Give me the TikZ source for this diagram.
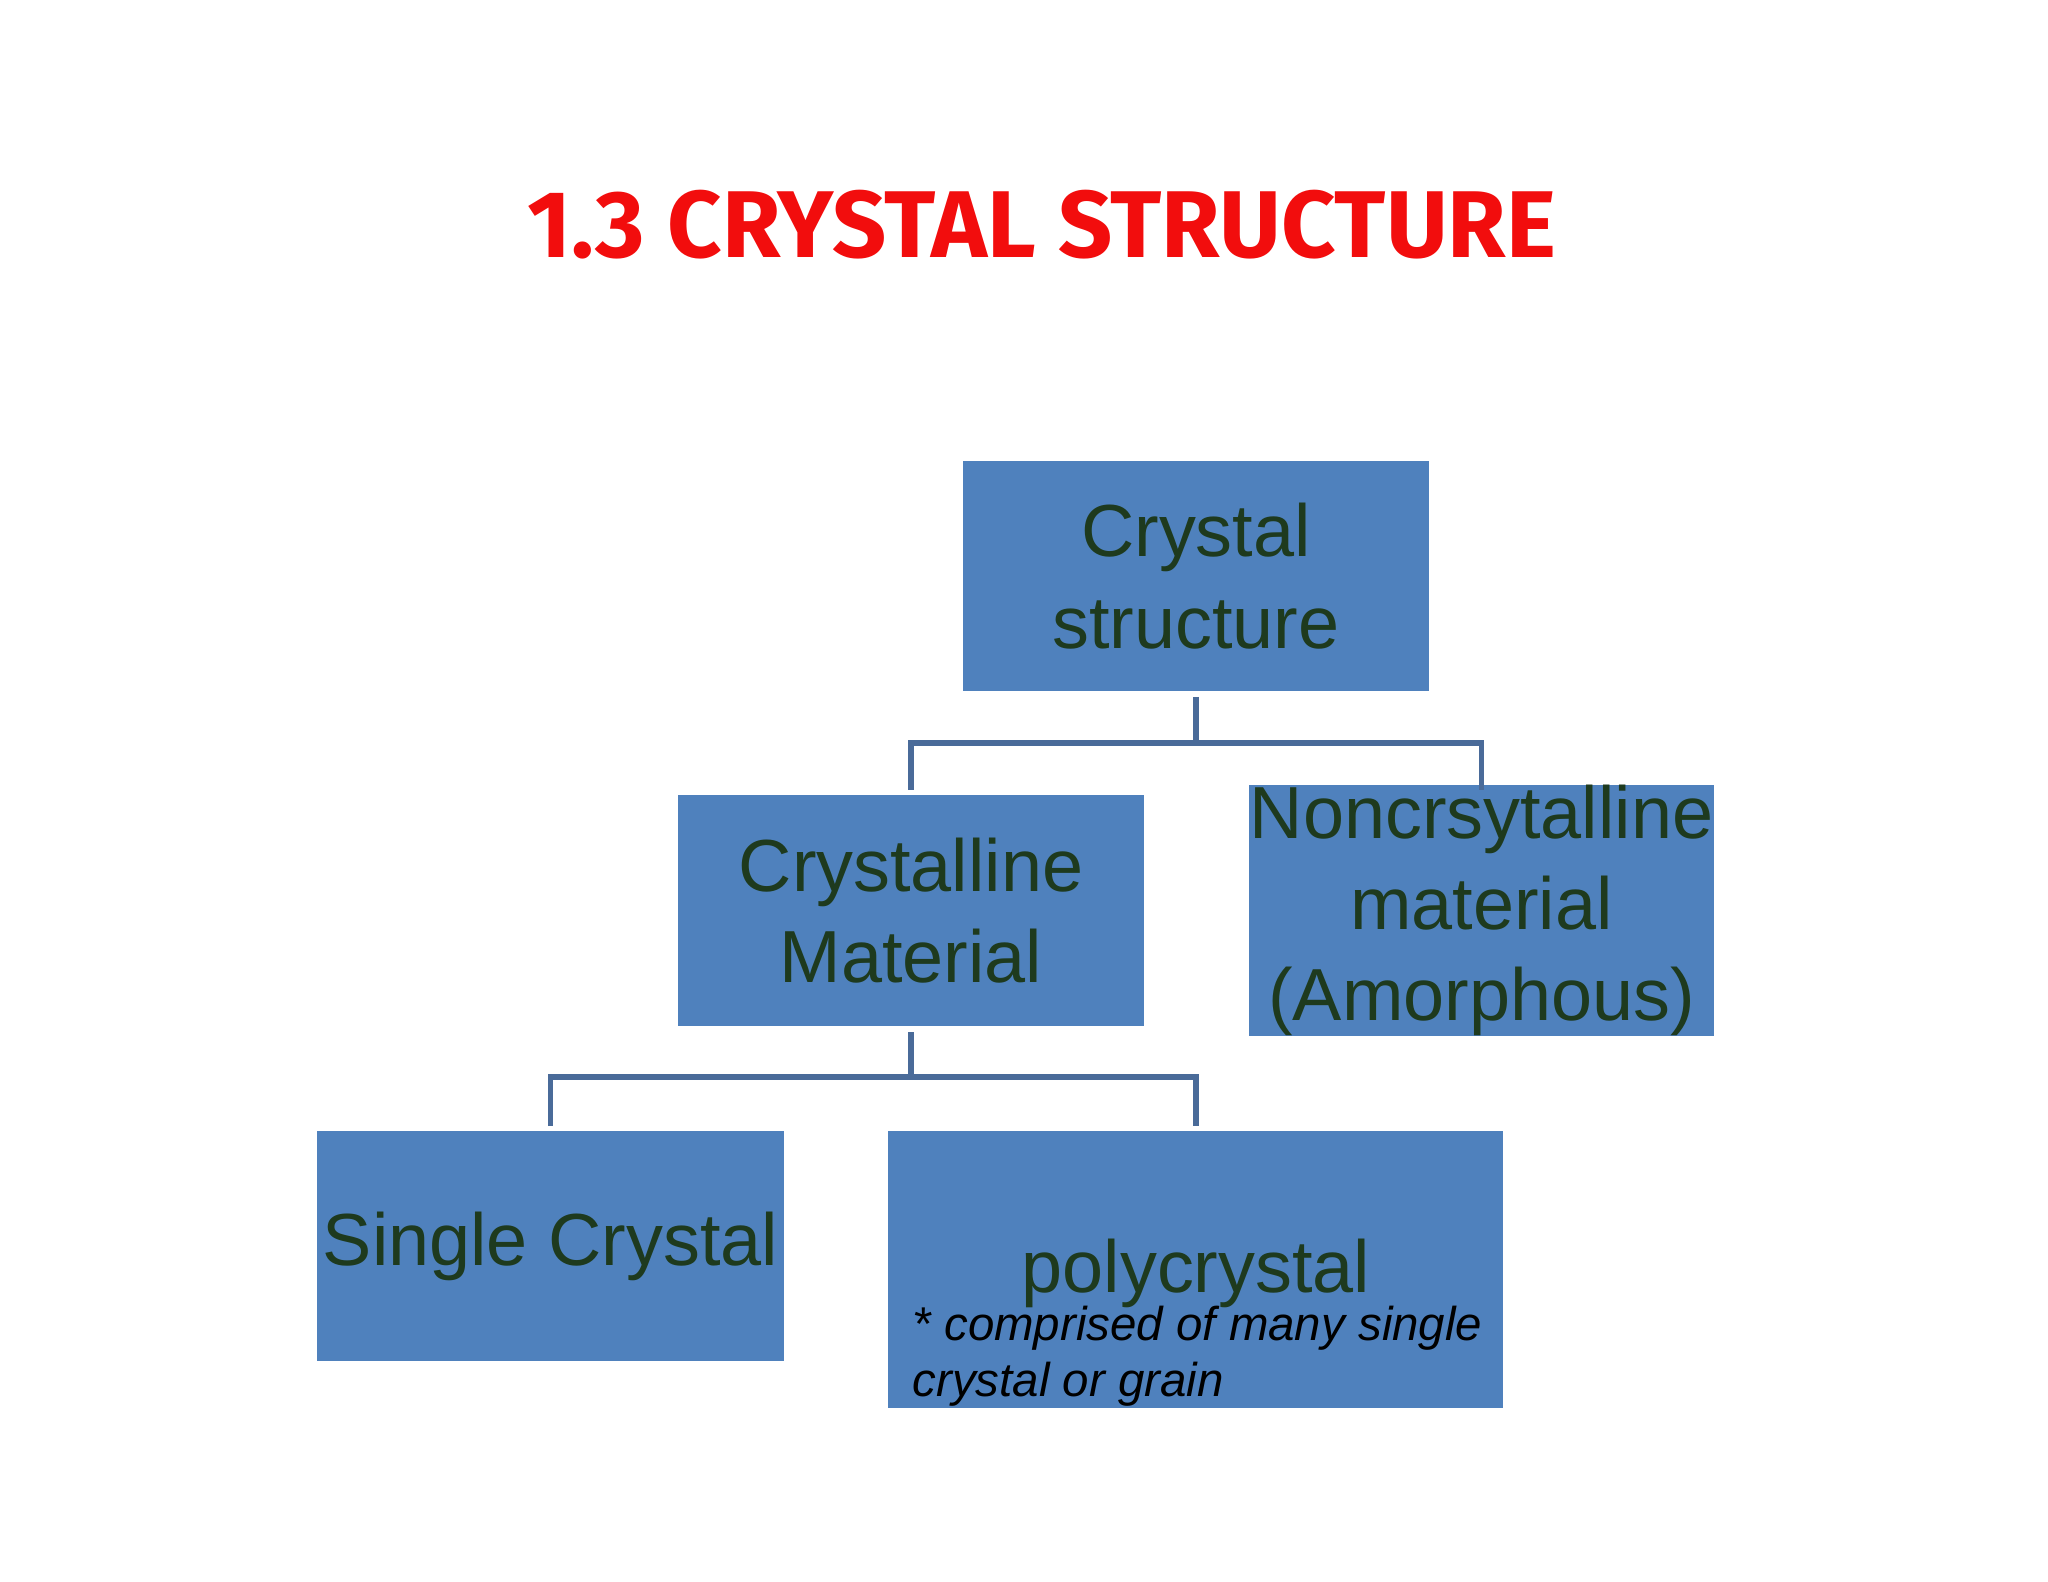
\documentclass[tikz,border=0pt]{standalone}
\usepackage{fontspec}
\setmainfont{Liberation Sans}
\newfontfamily\titlefont{Fira Sans}
\begin{document}
\begin{tikzpicture}[x=1cm,y=-1cm,
  box/.style={draw=none,fill=boxblue,inner sep=0pt,text=boxtext,font=\fontsize{21}{26}\selectfont,align=center},
  conn/.style={draw=lineblue,line width=1.6pt}]
\definecolor{boxblue}{HTML}{4F81BD}
\definecolor{boxtext}{HTML}{1E3A1E}
\definecolor{lineblue}{HTML}{4A6B99}
\definecolor{titlered}{HTML}{F20D0D}
\useasboundingbox (0,0) rectangle (20.48,15.82);
\node[text=titlered,font=\titlefont\bfseries\fontsize{27}{32}\selectfont] (title) at (10.42,2.25) {1.3 CRYSTAL STRUCTURE};
\node[box,minimum width=4.66cm,minimum height=2.30cm] (cs) at (11.96,5.76) {Crystal\\structure};
\node[box,minimum width=4.66cm,minimum height=2.31cm] (cm) at (9.11,9.105) {Crystalline\\Material};
\node[box,minimum width=4.65cm,minimum height=2.31cm] (nc) at (14.815,9.105) {Noncrsytalline\\material\\(Amorphous)};
\node[box,minimum width=4.67cm,minimum height=2.30cm] (sc) at (5.505,12.46) {Single Crystal};
\node[box,minimum width=6.15cm,minimum height=2.77cm] (pc) at (11.955,12.695) {};
\node[text=boxtext,font=\fontsize{21}{26}\selectfont] (pt) at (11.96,12.73) {polycrystal};
\node[anchor=west,inner sep=0pt,font=\itshape\fontsize{13.5}{16}\selectfont] (n1) at (9.12,13.28) {* comprised of many single};
\node[anchor=west,inner sep=0pt,font=\itshape\fontsize{13.5}{16}\selectfont] (n2) at (9.12,13.84) {crystal or grain};
\coordinate (a1) at (11.96,6.97); \coordinate (a2) at (11.96,7.43);
\coordinate (b1) at (9.11,7.43); \coordinate (b2) at (9.11,7.90);
\coordinate (c1) at (14.815,7.43); \coordinate (c2) at (14.815,7.90);
\draw[conn] (a1)--(a2) (b2)--(b1)--(c1)--(c2);
\coordinate (d1) at (9.11,10.32); \coordinate (d2) at (9.11,10.77);
\coordinate (e1) at (5.505,10.77); \coordinate (e2) at (5.505,11.26);
\coordinate (f1) at (11.96,10.77); \coordinate (f2) at (11.96,11.26);
\draw[conn] (d1)--(d2) (e2)--(e1)--(f1)--(f2);
\end{tikzpicture}
\end{document}
